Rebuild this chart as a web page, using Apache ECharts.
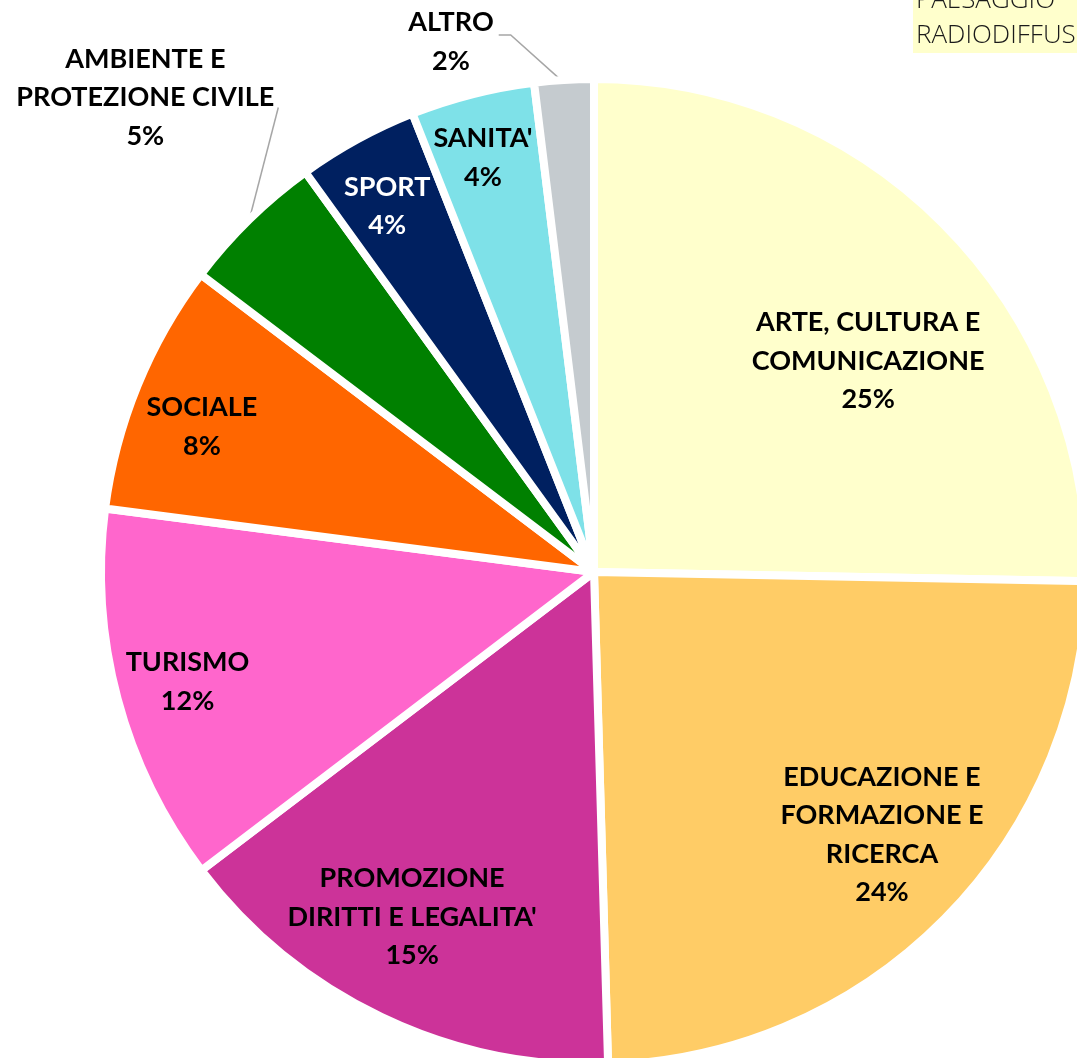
<!DOCTYPE html>
<html>
<head>
<meta charset="utf-8">
<script src="https://cdn.jsdelivr.net/npm/echarts@6/dist/echarts.min.js"></script>
<style>
html,body{margin:0;padding:0;background:#fff;}
#chart{width:1077px;height:1058px;}
</style>
</head>
<body>
<div id="chart"></div>
<script>
// ---- data ----
const categories = ['ARTE, CULTURA E\nCOMUNICAZIONE', 'EDUCAZIONE E\nFORMAZIONE E\nRICERCA', "PROMOZIONE\nDIRITTI E LEGALITA'", 'TURISMO', 'SOCIALE', 'AMBIENTE E\nPROTEZIONE CIVILE', 'SPORT', "SANITA'", 'ALTRO'];
const values = [25.29, 24.25, 15.11, 12.40, 8.25, 4.74, 3.95, 4.06, 1.94];
const colors = ['#FFFFCC', '#FFCC66', '#CC3399', '#FF66CC', '#FF6600', '#008000', '#002060', '#7EE1E8', '#C5CBCF'];
const legendTail = ['PAESAGGIO', 'RADIODIFFUS'];

// ---- layout (style) ----
const CX = 594, CY = 572, R = 493;
// label placement in polar terms: [angle from top clockwise (deg), distance from centre (px)]
const labelPolar = [[52.4, 346], [132.4, 390], [207.8, 390], [254.9, 421], [290.3, 418], [316.6, 653], [330.5, 420], [345, 429], [344.9, 549]];
const outsideIdx = [5, 8];
const labelColors = ['#000', '#000', '#000', '#000', '#000', '#000', '#fff', '#000', '#000'];

const total = values.reduce((a, b) => a + b, 0);
const midAngles = [];
{
  let acc = 0;
  values.forEach(v => { midAngles.push((acc + v / 2) / total * 360); acc += v; });
}
function polar(angDeg, r) {
  const a = angDeg * Math.PI / 180;
  return [CX + r * Math.sin(a), CY - r * Math.cos(a)];
}

const chart = echarts.init(document.getElementById('chart'), null, {renderer: 'canvas'});
const data = values.map((v, i) => {
  const outside = outsideIdx.indexOf(i) >= 0;
  return {
    name: categories[i],
    value: v,
    itemStyle: {color: colors[i]},
    label: {position: outside ? 'outside' : 'inside', color: labelColors[i]},
    labelLine: {show: outside}
  };
});

chart.setOption({
  backgroundColor: '#fff',
  animation: false,
  graphic: [
    {type: 'rect', shape: {x: 913, y: 0, width: 170, height: 53}, style: {fill: '#FFFFCC'}},
    {type: 'text', x: 916, y: 1, style: {text: legendTail[0], font: '300 26px "Open Sans"', fill: '#1a1a1a', verticalAlign: 'middle'}},
    {type: 'text', x: 916, y: 36, style: {text: legendTail[1], font: '300 26px "Open Sans"', fill: '#1a1a1a', verticalAlign: 'middle'}}
  ],
  series: [{
    type: 'pie',
    center: [CX, CY],
    radius: [0, R],
    startAngle: 90,
    clockwise: true,
    avoidLabelOverlap: false,
    itemStyle: {borderColor: '#fff', borderWidth: 8},
    label: {
      show: true,
      fontFamily: 'Lato',
      fontWeight: 'bold',
      fontSize: 27,
      lineHeight: 38.5,
      align: 'center',
      formatter: p => p.name + '\n' + Math.round(p.value / total * 100) + '%'
    },
    labelLine: {lineStyle: {color: '#A6A6A6', width: 1.5}},
    labelLayout: function (p) {
      const i = p.dataIndex;
      const lp = labelPolar[i];
      const c = polar(lp[0], lp[1]);
      const res = {x: c[0], y: c[1], align: 'center', verticalAlign: 'middle'};
      const w = p.labelRect.width;
      const right = c[0] + w / 2;
      if (i === 5) {
        res.labelLinePoints = [polar(midAngles[i], R), [right + 4, c[1] + 10], [right + 4, c[1] + 10]];
      } else if (i === 8) {
        res.labelLinePoints = [polar(midAngles[i], R - 3), [right + 17, c[1] - 7], [right + 5, c[1] - 7]];
      }
      return res;
    },
    data: data
  }]
});
</script>
</body>
</html>
